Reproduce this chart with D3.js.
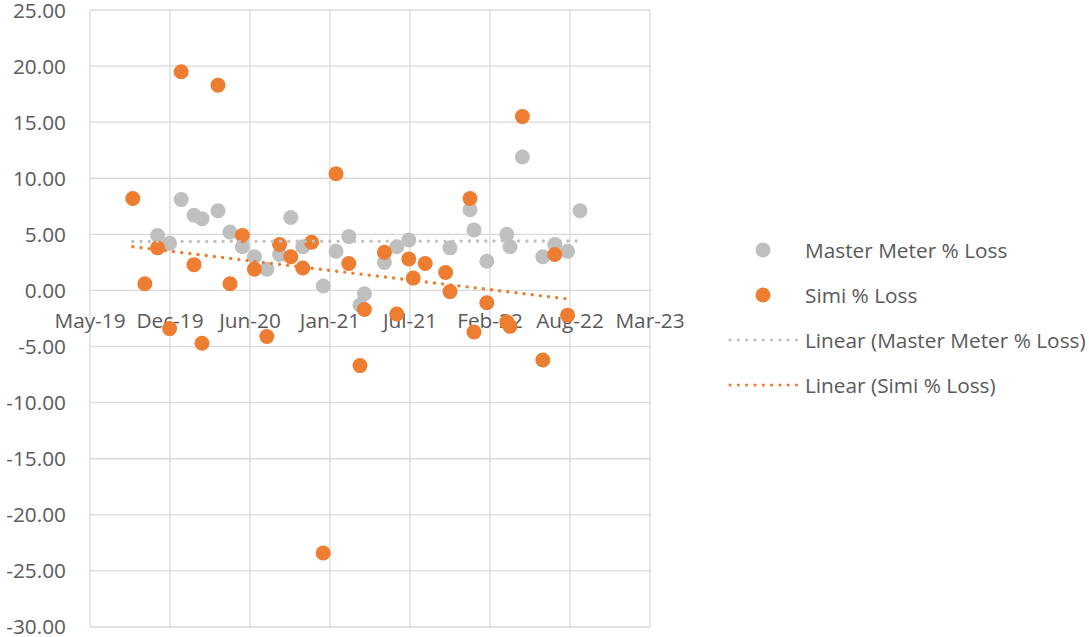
<!DOCTYPE html>
<meta charset="utf-8">
<style>
body { margin: 0; background: #fff; }
svg { font-family: "Open Sans", Lato, sans-serif; }
.grid line { stroke: #d9d9d9; stroke-width: 1.3; }
.lbl { fill: #595959; font-size: 20.8px; }
</style>

<svg width="1089" height="637"></svg>

<script src="https://d3js.org/d3.v7.min.js"></script>
<script>
// reading dates and the two loss series (null = no reading)
var dates = ["2019-08-30", "2019-09-29", "2019-10-31", "2019-11-30", "2019-12-29",
  "2020-01-30", "2020-02-19", "2020-03-30", "2020-04-29", "2020-05-30",
  "2020-06-29", "2020-07-30", "2020-08-31", "2020-09-28", "2020-10-28",
  "2020-11-19", "2020-12-18", "2021-01-19", "2021-02-20", "2021-03-20",
  "2021-03-31", "2021-05-20", "2021-06-20", "2021-07-20", "2021-07-31",
  "2021-08-30", "2021-10-20", "2021-10-31", "2021-12-20", "2021-12-30",
  "2022-01-31", "2022-03-22", "2022-03-30", "2022-04-30", "2022-06-20",
  "2022-07-20", "2022-08-21", "2022-09-21"];
var masterLoss = [null, null, 4.9, 4.2, 8.1,
  6.7, 6.4, 7.1, 5.2, 3.9,
  3.0, 1.9, 3.2, 6.5, 3.9,
  null, 0.4, 3.5, 4.8, -1.3,
  -0.3, 2.5, 3.9, 4.5, null,
  null, null, 3.8, 7.2, 5.4,
  2.6, 5.0, 3.9, 11.9, 3.0,
  4.1, 3.5, 7.1];
var simiLoss = [8.2, 0.6, 3.8, -3.4, 19.5,
  2.3, -4.7, 18.3, 0.6, 4.9,
  1.9, -4.1, 4.1, 3.0, 2.0,
  4.3, -23.4, 10.4, 2.4, -6.7,
  -1.7, 3.4, -2.1, 2.8, 1.1,
  2.4, 1.6, -0.1, 8.2, -3.7,
  -1.1, -2.8, -3.2, 15.5, -6.2,
  3.2, -2.2, null];
var xTicks = ["2019-05-15", "2019-12-01", "2020-06-18", "2021-01-04",
  "2021-07-23", "2022-02-08", "2022-08-27", "2023-03-15"];
var yTicks = [-30, -25, -20, -15, -10, -5, 0, 5, 10, 15, 20, 25];
var seriesNames = ["Master Meter % Loss", "Simi % Loss"];
var seriesColors = ["#bfbfbf", "#ed7d31"];

var svg = d3.select("svg");
var parse = d3.utcParse("%Y-%m-%d");
var tickDates = xTicks.map(parse);
var dayDates = dates.map(parse);

var x = d3.scaleUtc()
    .domain([tickDates[0], tickDates[tickDates.length - 1]])
    .range([90, 650]);
var y = d3.scaleLinear()
    .domain([yTicks[0], yTicks[yTicks.length - 1]])
    .range([627, 10]);

// gridlines
var grid = svg.append("g").attr("class", "grid");
grid.selectAll("line.h").data(yTicks).enter().append("line")
    .attr("x1", x.range()[0]).attr("x2", x.range()[1])
    .attr("y1", d => y(d)).attr("y2", d => y(d));
grid.selectAll("line.v").data(tickDates).enter().append("line")
    .attr("y1", y.range()[0]).attr("y2", y.range()[1])
    .attr("x1", d => x(d)).attr("x2", d => x(d));

// y axis labels
svg.append("g").selectAll("text").data(yTicks).enter().append("text")
    .attr("class", "lbl")
    .attr("x", 66).attr("y", d => y(d)).attr("dy", "0.36em")
    .attr("text-anchor", "end")
    .text(d => d3.format(".2f")(d).replace("−", "-"));

// x axis labels, sitting under the zero line
var fmt = d3.utcFormat("%b-%y");
svg.append("g").selectAll("text").data(tickDates).enter().append("text")
    .attr("class", "lbl")
    .attr("x", d => x(d)).attr("y", y(0) + 38)
    .attr("text-anchor", "middle")
    .text(d => fmt(d));

var series = [masterLoss, simiLoss];

// points
series.forEach(function(vals, i) {
  var pts = dayDates.map((d, j) => ({date: d, v: vals[j]})).filter(p => p.v !== null);
  svg.append("g").selectAll("circle").data(pts).enter().append("circle")
      .attr("cx", p => x(p.date)).attr("cy", p => y(p.v))
      .attr("r", 7.5)
      .attr("fill", seriesColors[i]);
});

// linear trendlines (least squares on the plotted points)
series.forEach(function(vals, i) {
  var pts = dayDates.map((d, j) => ({t: +d, v: vals[j]})).filter(p => p.v !== null);
  var mt = d3.mean(pts, p => p.t), mv = d3.mean(pts, p => p.v);
  var slope = d3.sum(pts, p => (p.t - mt) * (p.v - mv)) / d3.sum(pts, p => (p.t - mt) * (p.t - mt));
  var t0 = +dayDates[0], t1 = pts[pts.length - 1].t;
  svg.append("line")
      .attr("x1", x(t0)).attr("y1", y(mv + slope * (t0 - mt)))
      .attr("x2", x(t1)).attr("y2", y(mv + slope * (t1 - mt)))
      .attr("stroke", seriesColors[i])
      .attr("stroke-width", 3.4)
      .attr("stroke-linecap", "round")
      .attr("stroke-dasharray", "0.01 8.2");
});

// legend
var legendRows = [
  {label: seriesNames[0], color: seriesColors[0], kind: "dot"},
  {label: seriesNames[1], color: seriesColors[1], kind: "dot"},
  {label: "Linear (" + seriesNames[0] + ")", color: seriesColors[0], kind: "line"},
  {label: "Linear (" + seriesNames[1] + ")", color: seriesColors[1], kind: "line"}
];
var legend = svg.append("g").selectAll("g").data(legendRows).enter().append("g")
    .attr("transform", (d, i) => "translate(0," + (250 + i * 45) + ")");
legend.filter(d => d.kind === "dot").append("circle")
    .attr("cx", 763).attr("r", 7.5).attr("fill", d => d.color);
legend.filter(d => d.kind === "line").append("line")
    .attr("x1", 730).attr("x2", 797)
    .attr("stroke", d => d.color)
    .attr("stroke-width", 3.2)
    .attr("stroke-linecap", "round")
    .attr("stroke-dasharray", "0.01 8.3");
legend.append("text")
    .attr("class", "lbl")
    .attr("x", 805).attr("dy", "0.36em")
    .text(d => d.label);
</script>
